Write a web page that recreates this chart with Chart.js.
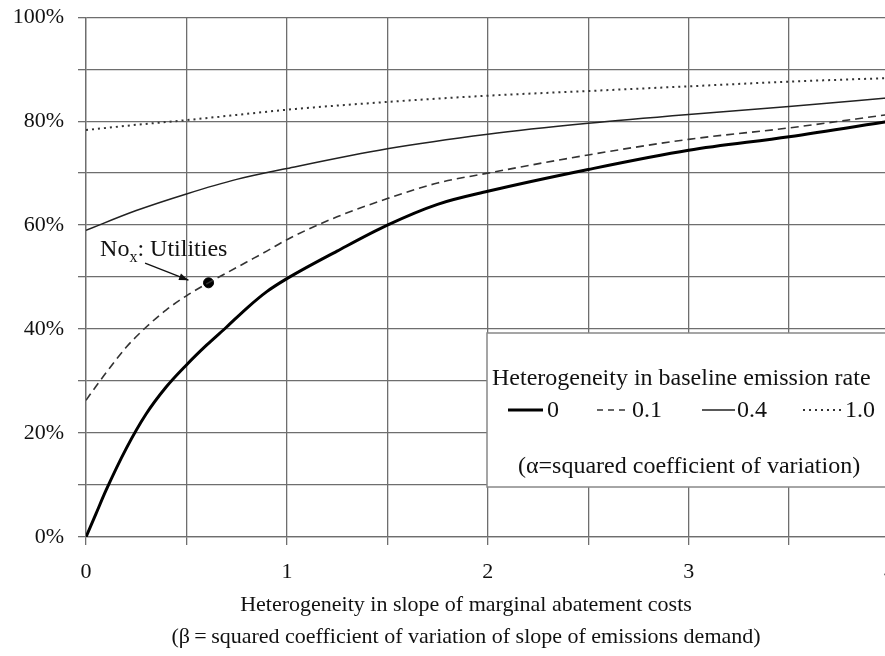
<!DOCTYPE html>
<html>
<head>
<meta charset="utf-8">
<script src="https://cdn.jsdelivr.net/npm/chart.js@4/dist/chart.umd.min.js"></script>
<style>
  html, body { margin: 0; padding: 0; background: #fff; overflow: hidden; }
  #wrap { width: 885px; height: 656px; overflow: hidden; }
  /* canvas a bit bigger than the window: the plot runs off the right edge like the original */
  #chart { display: block; margin-top: -10px; }
</style>
</head>
<body>
<div id="wrap"><canvas id="chart" width="909" height="666"></canvas></div>
<script>
// x values (beta) and share values (%)
const betaSteep = [0, 0.05, 0.1, 0.2, 0.3, 0.4, 0.5, 0.6, 0.7, 0.8, 0.9, 1, 1.25, 1.5, 1.75, 2, 2.5, 3, 3.5, 4]
const alpha0 = [0, 4.5, 9, 17, 23.7, 28.9, 33.1, 36.9, 40.4, 44, 47.2, 49.7, 55, 60, 64, 66.5, 70.7, 74.4, 77, 80]
const alpha01 = [26.3, 29, 31.6, 36.5, 40.4, 43.7, 46.4, 48.7, 50.8, 52.9, 55, 57.2, 61.6, 65.1, 68.1, 70, 73.5, 76.5, 78.7, 81.3]

const betaFlat = [0, 0.25, 0.5, 0.75, 1, 1.5, 2, 2.5, 3, 3.5, 4]
const alpha04 = [59, 62.8, 66, 68.8, 70.9, 74.7, 77.5, 79.6, 81.3, 82.8, 84.5]
const alpha1 = [78.3, 79.3, 80.2, 81.2, 82.2, 83.7, 84.9, 85.8, 86.7, 87.6, 88.3]

const seriesLabels = ['0', '0.1', '0.4', '1.0']

// Nox: Utilities point
const noxBeta = [0.61]
const noxShare = [48.9]

const xTitle = ['Heterogeneity in slope of marginal abatement costs',
  '(\u03B2\u2009=\u2009squared coefficient of variation of slope of emissions demand)']
const legendTitle = 'Heterogeneity in baseline emission rate'
const legendNote = '(\u03B1=squared coefficient of variation)'

const FONT = '"Liberation Serif", "Times New Roman", serif'
const OY = 10 // canvas is shifted up by this much

const pts = (xs, ys) => xs.map((x, i) => ({ x: x, y: ys[i] }))

// axis title + legend box + annotation
const extras = {
  id: 'extras',
  afterDatasetsDraw(chart) {
    const ctx = chart.ctx
    const xs = chart.scales.x, ys = chart.scales.y
    ctx.save()
    ctx.translate(0, OY)
    ctx.fillStyle = '#111'
    ctx.textBaseline = 'middle'

    // x axis title (two lines)
    ctx.font = '22px ' + FONT
    ctx.textAlign = 'center'
    ctx.fillText(xTitle[0], 466, 605)
    ctx.fillText(xTitle[1], 466, 637)

    // legend box
    ctx.fillStyle = '#fff'
    ctx.fillRect(487, 333, 430, 154)
    ctx.strokeStyle = '#888'
    ctx.lineWidth = 1.5
    ctx.strokeRect(487, 333, 430, 154)

    ctx.fillStyle = '#111'
    ctx.textAlign = 'left'
    ctx.font = '24px ' + FONT
    ctx.fillText(legendTitle, 492, 379)
    ctx.fillText(legendNote, 518, 467)

    const lineX = [508, 597, 702, 803]
    const lineEnd = [543, 630, 735, 843]
    const textX = [547, 632, 737, 845]
    chart.data.datasets.slice(0, 4).forEach((ds, i) => {
      ctx.beginPath()
      ctx.strokeStyle = ds.borderColor
      ctx.lineWidth = ds.borderWidth
      ctx.setLineDash(i === 1 ? [6, 5] : (ds.borderDash || []))
      ctx.moveTo(lineX[i], 410)
      ctx.lineTo(lineEnd[i], 410)
      ctx.stroke()
      ctx.setLineDash([])
      ctx.fillText(seriesLabels[i], textX[i], 411)
    })
    ctx.restore()

    // annotation text and arrow (placed on the data scales)
    ctx.save()
    ctx.fillStyle = '#111'
    ctx.textBaseline = 'middle'
    ctx.textAlign = 'left'
    const tx = xs.getPixelForValue(0.07), ty = ys.getPixelForValue(55.2)
    ctx.font = '24px ' + FONT
    ctx.fillText('No', tx, ty)
    let w = ctx.measureText('No').width
    ctx.font = '16px ' + FONT
    ctx.fillText('x', tx + w, ty + 8)
    w += ctx.measureText('x').width
    ctx.font = '24px ' + FONT
    ctx.fillText(': Utilities', tx + w, ty)

    const ax0 = xs.getPixelForValue(0.294), ay0 = ys.getPixelForValue(52.7)
    const ax1 = xs.getPixelForValue(0.51), ay1 = ys.getPixelForValue(49.4)
    ctx.strokeStyle = '#111'
    ctx.lineWidth = 1.3
    ctx.beginPath()
    ctx.moveTo(ax0, ay0)
    ctx.lineTo(ax1, ay1)
    ctx.stroke()
    const ang = Math.atan2(ay1 - ay0, ax1 - ax0)
    ctx.beginPath()
    ctx.moveTo(ax1, ay1)
    ctx.lineTo(ax1 - 10 * Math.cos(ang - 0.35), ay1 - 10 * Math.sin(ang - 0.35))
    ctx.lineTo(ax1 - 10 * Math.cos(ang + 0.35), ay1 - 10 * Math.sin(ang + 0.35))
    ctx.closePath()
    ctx.fill()
    ctx.restore()
  }
}

const myChart = new Chart(document.getElementById('chart').getContext('2d'), {
  type: 'scatter',
  data: {
    datasets: [
      {
        label: seriesLabels[0],
        data: pts(betaSteep, alpha0),
        showLine: true,
        borderColor: '#000',
        borderWidth: 3,
        pointRadius: 0,
        cubicInterpolationMode: 'monotone'
      },
      {
        label: seriesLabels[1],
        data: pts(betaSteep, alpha01),
        showLine: true,
        borderColor: '#333',
        borderWidth: 1.6,
        borderDash: [8, 5],
        pointRadius: 0,
        cubicInterpolationMode: 'monotone'
      },
      {
        label: seriesLabels[2],
        data: pts(betaFlat, alpha04),
        showLine: true,
        borderColor: '#222',
        borderWidth: 1.5,
        pointRadius: 0,
        cubicInterpolationMode: 'monotone'
      },
      {
        label: seriesLabels[3],
        data: pts(betaFlat, alpha1),
        showLine: true,
        borderColor: '#333',
        borderWidth: 2,
        borderDash: [2, 4],
        pointRadius: 0,
        cubicInterpolationMode: 'monotone'
      },
      {
        label: 'Nox: Utilities',
        data: pts(noxBeta, noxShare),
        pointRadius: 5,
        pointBackgroundColor: '#000',
        pointBorderColor: '#000'
      }
    ]
  },
  options: {
    responsive: false,
    animation: false,
    layout: { padding: 0 },
    plugins: {
      legend: { display: false },
      tooltip: { enabled: false }
    },
    scales: {
      x: {
        type: 'linear',
        min: 0,
        max: 4,
        ticks: {
          stepSize: 0.5,
          autoSkip: false,
          maxRotation: 0,
          padding: 14,
          color: '#111',
          font: { family: FONT, size: 22 },
          callback: (v) => Number.isInteger(v) ? String(v) : ''
        },
        grid: { color: '#6e6e6e', lineWidth: 1.3, tickLength: 8 },
        border: { color: '#6e6e6e', width: 1.3 },
        afterFit: (scale) => { scale.height = 119 }
      },
      y: {
        min: 0,
        max: 100,
        ticks: {
          stepSize: 10,
          autoSkip: false,
          padding: 14,
          color: '#111',
          font: { family: FONT, size: 22 },
          callback: (v) => v % 20 === 0 ? v + '%' : ''
        },
        grid: { color: '#6e6e6e', lineWidth: 1.3, tickLength: 8 },
        border: { color: '#6e6e6e', width: 1.3 },
        afterFit: (scale) => { scale.width = 86 }
      }
    }
  },
  plugins: [extras]
})
</script>
</body>
</html>
